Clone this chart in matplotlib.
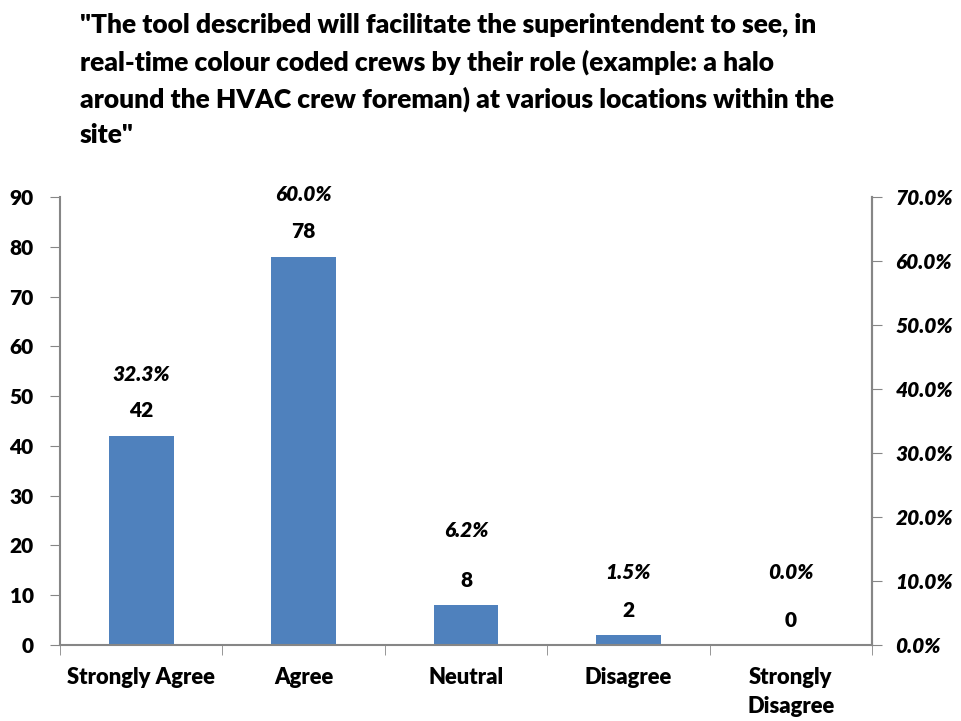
import matplotlib.pyplot as plt
from matplotlib.ticker import FixedLocator, FuncFormatter

plt.rcParams['font.family'] = ['Lato', 'DejaVu Sans']

# dados
categories = ['Strongly Agree', 'Agree', 'Neutral', 'Disagree', 'Strongly\nDisagree']
counts = [42, 78, 8, 2, 0]
shares = [32.3, 60.0, 6.2, 1.5, 0.0]

title = ('"The tool described will facilitate the superintendent to see, in\n'
         'real-time colour coded crews by their role (example: a halo\n'
         'around the HVAC crew foreman) at various locations within the\n'
         'site"')

# deslocamento (px) dos rótulos de % acima do topo da barra
pct_offset_px = [61, 62, 75, 63, 73]

bar_color = '#4F81BD'
axis_color = '#868686'
fs = 15

fig = plt.figure(figsize=(9.62, 7.21), dpi=100)
ax = fig.add_axes([0.0624, 0.1054, 0.8440, 0.6214])

x = list(range(len(categories)))
ax.bar(x, counts, width=0.4, color=bar_color, zorder=2)

ax.set_xlim(-0.5, len(categories) - 0.5)
ax.set_ylim(0, 90)
ax.set_yticks(range(0, 91, 10))

# rótulos de contagem e percentual
for xi, c, p, off in zip(x, counts, shares, pct_offset_px):
    ax.annotate(f'{c}', (xi, c), xytext=(0, 25), textcoords='offset pixels',
                ha='center', va='center', fontsize=fs, fontweight='heavy')
    ax.annotate(f'{p:.1f}%', (xi, c), xytext=(0, off), textcoords='offset pixels',
                ha='center', va='center', fontsize=fs, fontweight='heavy',
                fontstyle='italic')

# eixo x: marcas nos limites das categorias
ax.set_xticks(x)
ax.set_xticklabels(categories, fontsize=15.8, fontweight='heavy', va='top',
                   linespacing=1.45)
ax.tick_params(axis='x', which='major', length=0, pad=16)
ax.xaxis.set_minor_locator(FixedLocator([i - 0.5 for i in range(len(categories) + 1)]))
ax.tick_params(axis='x', which='minor', length=7, color=axis_color, direction='out')

ax.tick_params(axis='y', length=7, color=axis_color, labelsize=fs, pad=12)
for lbl in ax.get_yticklabels():
    lbl.set_fontweight('heavy')

for side in ['left', 'bottom', 'right']:
    ax.spines[side].set_color(axis_color)
    ax.spines[side].set_linewidth(1.5)
ax.spines['top'].set_visible(False)

# eixo secundário em percentual
ax2 = ax.twinx()
ax2.set_ylim(0, 0.7)
ax2.set_yticks([i / 10 for i in range(8)])
ax2.yaxis.set_major_formatter(FuncFormatter(lambda v, _: f'{v * 100:.1f}%'))
ax2.tick_params(axis='y', length=7, color=axis_color, labelsize=fs, pad=10)
for lbl in ax2.get_yticklabels():
    lbl.set_fontweight('heavy')
    lbl.set_fontstyle('italic')
for side in ['left', 'bottom', 'top']:
    ax2.spines[side].set_visible(False)
ax2.spines['right'].set_color(axis_color)
ax2.spines['right'].set_linewidth(1.5)

fig.text(80 / 962, 1 - 13 / 721, title, ha='left', va='top', fontsize=19,
         fontweight='heavy', linespacing=1.56)

fig.savefig('out.png', dpi=100)
